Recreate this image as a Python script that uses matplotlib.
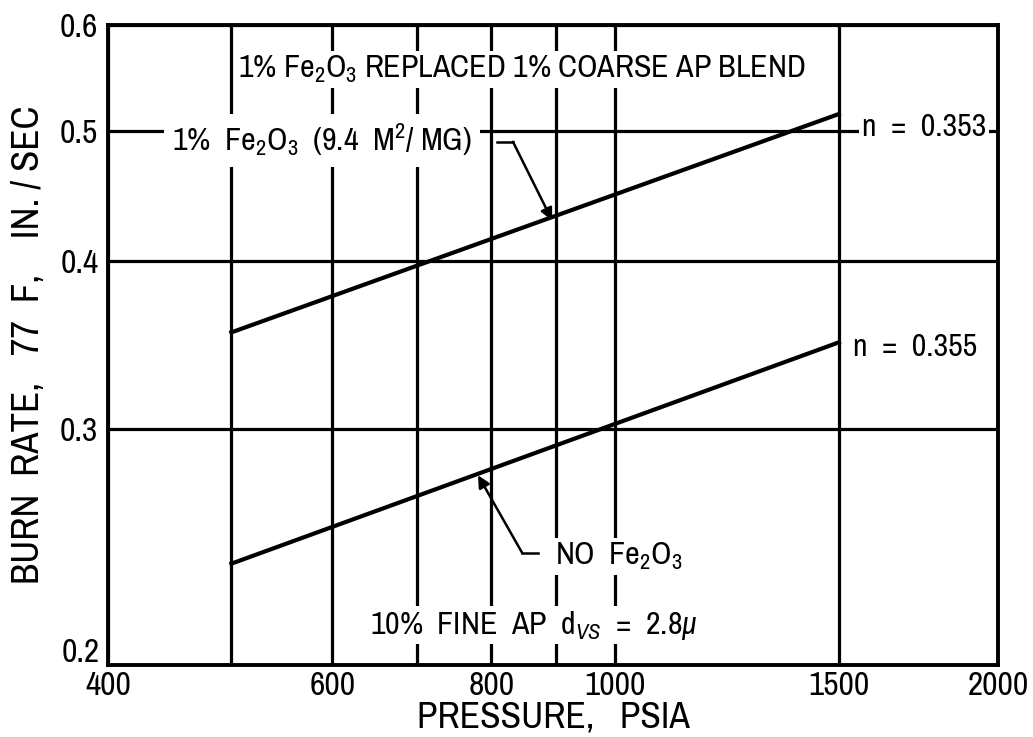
import matplotlib
matplotlib.use("Agg")
import matplotlib.pyplot as plt
from matplotlib import font_manager as fm

# ---- data ----
pressure = [500, 1500]
rate_fe2o3 = [0.354, 0.515]     # 1% Fe2O3, n = 0.353
rate_no_fe = [0.238, 0.348]     # no Fe2O3, n = 0.355

x_ticks = [400, 600, 800, 1000, 1500, 2000]
x_tick_labels = ["400", "600", "800", "1000", "1500", "2000"]
x_minor = [500, 700, 900]
y_ticks = [0.3, 0.4, 0.5, 0.6]
y_tick_labels = ["0.3", "0.4", "0.5", "0.6"]

# pick a condensed font if one is available
fonts = fm.fontManager.ttflist
chosen, stretch = None, "normal"
for f in fonts:
    if ("Narrow" in f.name or "Condensed" in f.name) and f.style == "normal":
        chosen = f.name
        break
if chosen is None:
    for f in fonts:
        if f.stretch in ("condensed", "semi-condensed") and f.style == "normal":
            chosen, stretch = f.name, f.stretch
            break
if chosen is None:
    chosen = "DejaVu Sans"
plt.rcParams["font.family"] = [chosen, "DejaVu Sans"]
plt.rcParams["font.stretch"] = stretch
plt.rcParams["mathtext.fontset"] = "custom"
plt.rcParams["mathtext.rm"] = chosen
plt.rcParams["mathtext.it"] = chosen + ":italic"

fig = plt.figure(figsize=(10.33, 7.37), dpi=100)
ax = fig.add_axes([108/1033, 72/737, 890/1033, 640/737])
ax.set_xscale("log")
ax.set_yscale("log")
ax.set_xlim(400, 2000)
ax.set_ylim(0.2, 0.6)

ax.set_xticks(x_ticks)
ax.set_xticklabels(x_tick_labels)
ax.set_xticks(x_minor, minor=True)
ax.set_xticklabels([], minor=True)
ax.set_yticks(y_ticks)
ax.set_yticklabels(y_tick_labels)
ax.yaxis.set_minor_locator(matplotlib.ticker.NullLocator())
ax.tick_params(which="both", length=0, labelsize=24, pad=7)
ax.tick_params(axis="x", pad=4)
ax.grid(True, which="both", color="black", lw=2.3)
ax.set_axisbelow(True)
for s in ax.spines.values():
    s.set_linewidth(2.8)
# corner label 0.2 (lifted slightly above the 400 label)
ax.text(-0.009, -0.005, "0.2", transform=ax.transAxes, ha="right", va="bottom",
        fontsize=24)

ax.plot(pressure, rate_fe2o3, color="black", lw=3, zorder=3)
ax.plot(pressure, rate_no_fe, color="black", lw=3, zorder=3)

box = dict(facecolor="white", edgecolor="none", pad=2)
tfs = 23
ax.text(0.465, 0.93, r"1% Fe$_2$O$_3$ REPLACED 1% COARSE AP BLEND", transform=ax.transAxes,
        ha="center", va="center", fontsize=tfs, bbox=box, zorder=4)
ax.text(0.072, 0.82, r"1%  Fe$_2$O$_3$  (9.4  M$^2$/ MG)", transform=ax.transAxes,
        ha="left", va="center", fontsize=tfs, bbox=dict(facecolor="white", edgecolor="none", pad=6), zorder=4)
ax.text(0.847, 0.841, "n  =  0.353", transform=ax.transAxes,
        ha="left", va="center", fontsize=tfs, bbox=box, zorder=4)
ax.text(0.837, 0.497, "n  =  0.355", transform=ax.transAxes,
        ha="left", va="center", fontsize=tfs, bbox=box, zorder=4)
ax.text(0.502, 0.169, r"NO  Fe$_2$O$_3$", transform=ax.transAxes,
        ha="left", va="center", fontsize=tfs, bbox=box, zorder=4)
ax.text(0.294, 0.0625, r"10%  FINE  AP  d$_{VS}$  =  2.8$\mathit{\mu}$", transform=ax.transAxes,
        ha="left", va="center", fontsize=tfs, bbox=box, zorder=4)

# leader lines
ax.plot([808, 832], [0.491, 0.491], color="black", lw=1.8, zorder=5)
ax.annotate("", xy=(893, 0.429), xytext=(832, 0.491),
            arrowprops=dict(arrowstyle="-|>", color="black", lw=1.8, mutation_scale=18,
                            shrinkA=0, shrinkB=0), zorder=5)
ax.plot([846, 870], [0.2424, 0.2424], color="black", lw=1.8, zorder=5)
ax.annotate("", xy=(781, 0.277), xytext=(846, 0.2424),
            arrowprops=dict(arrowstyle="-|>", color="black", lw=1.8, mutation_scale=18,
                            shrinkA=0, shrinkB=0), zorder=5)

ax.set_xlabel("PRESSURE,   PSIA", fontsize=27, labelpad=0)
ax.set_ylabel("BURN  RATE,   77  F,    IN. / SEC", fontsize=28, labelpad=10)

fig.savefig("out.png", dpi=100)
